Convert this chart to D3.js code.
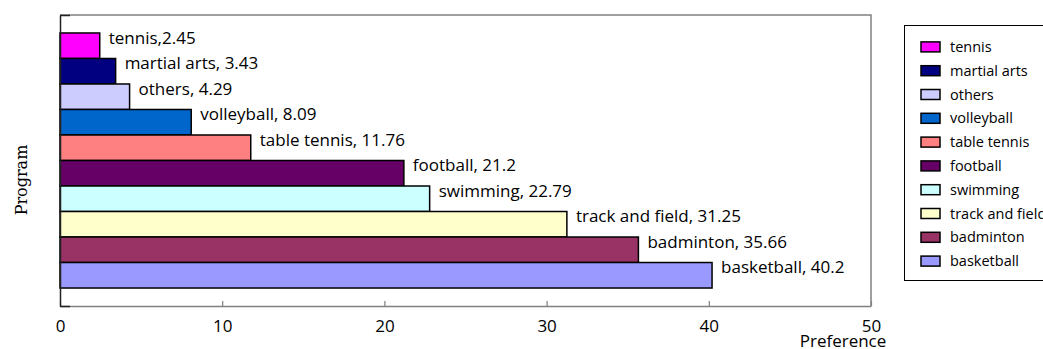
<!DOCTYPE html>
<html>
<head>
<meta charset="utf-8">
<script src="https://cdn.jsdelivr.net/npm/d3@7"></script>
<style>
  body { margin: 0; background: #fff; }
  svg { display: block; }
  text { font-family: "Open Sans", sans-serif; fill: #000; }
</style>
</head>
<body>
<div id="chart"></div>
<script>
'use strict';

// data, top bar first
var categories = ['tennis', 'martial arts', 'others', 'volleyball', 'table tennis',
  'football', 'swimming', 'track and field', 'badminton', 'basketball'];
var values = [2.45, 3.43, 4.29, 8.09, 11.76, 21.2, 22.79, 31.25, 35.66, 40.2];
var dataLabels = ['tennis,2.45', 'martial arts, 3.43', 'others, 4.29', 'volleyball, 8.09',
  'table tennis, 11.76', 'football, 21.2', 'swimming, 22.79', 'track and field, 31.25',
  'badminton, 35.66', 'basketball, 40.2'];
var colors = ['#ff00ff', '#000080', '#ccccff', '#0066cc', '#ff8080',
  '#660066', '#ccffff', '#ffffcc', '#993366', '#9999ff'];
var xTicks = [0, 10, 20, 30, 40, 50];

var width = 1043, height = 349;
var plot = {left: 60, right: 871, top: 15, bottom: 306};

var svg = d3.select('#chart')
  .append('svg')
  .attr('width', width)
  .attr('height', height);

var x = d3.scaleLinear().domain([0, 50]).range([plot.left, plot.right]);
var y = d3.scaleBand().domain(categories)
  .range([plot.top, plot.bottom])
  .paddingInner(0)
  .paddingOuter(0.705);
var color = d3.scaleOrdinal().domain(categories).range(colors);

var data = categories.map(function(c, i) {
  return {name: c, value: values[i], label: dataLabels[i]};
});

// plot frame (top and right)
svg.append('path')
  .attr('d', 'M' + plot.left + ',' + plot.top + 'H' + plot.right + 'V' + plot.bottom)
  .attr('fill', 'none')
  .attr('stroke', '#808080')
  .attr('stroke-width', 1.5);

// bars
svg.selectAll('rect.bar')
  .data(data)
  .enter()
    .append('rect')
    .attr('class', 'bar')
    .attr('x', x(0))
    .attr('y', function(d) { return y(d.name); })
    .attr('width', function(d) { return x(d.value) - x(0); })
    .attr('height', y.bandwidth())
    .attr('fill', function(d) { return color(d.name); })
    .attr('stroke', '#000')
    .attr('stroke-width', 1.5);

// bar labels
svg.selectAll('text.lbl')
  .data(data)
  .enter()
    .append('text')
    .attr('class', 'lbl')
    .attr('x', function(d) { return x(d.value) + 9; })
    .attr('y', function(d) { return y(d.name) + y.bandwidth() / 2 - 8; })
    .attr('dy', '0.35em')
    .style('font-size', '17px')
    .text(function(d) { return d.label; });

// x axis
var xAxis = svg.append('g')
  .attr('transform', 'translate(0,' + plot.bottom + ')')
  .call(d3.axisBottom(x).tickValues(xTicks).tickSizeInner(-5).tickSizeOuter(0).tickPadding(14));
xAxis.select('.domain').attr('stroke', '#808080').attr('stroke-width', 1.5);
xAxis.selectAll('.tick line').attr('stroke', '#808080').attr('stroke-width', 1.2);
xAxis.selectAll('.tick text')
  .style('font-family', '"Open Sans", sans-serif')
  .style('font-size', '17px')
  .attr('fill', '#000');

// y axis (category edges only)
var yEdge = d3.scaleLinear().domain([0, 1]).range([plot.bottom, plot.top]);
var yAxis = svg.append('g')
  .attr('transform', 'translate(' + plot.left + ',0)')
  .call(d3.axisLeft(yEdge).tickValues([0, 1]).tickSizeInner(-10).tickSizeOuter(0).tickFormat(''));
yAxis.select('.domain').attr('stroke', '#222').attr('stroke-width', 1.5);
yAxis.selectAll('.tick line').attr('stroke', '#222').attr('stroke-width', 1.5);

// axis titles
svg.append('text')
  .attr('x', 843)
  .attr('y', 347)
  .attr('text-anchor', 'middle')
  .style('font-size', '17px')
  .text('Preference');

svg.append('text')
  .attr('transform', 'translate(27,180) rotate(-90)')
  .attr('text-anchor', 'middle')
  .style('font-family', '"DejaVu Serif", serif')
  .style('font-size', '16px')
  .text('Program');

// legend
var legendY = d3.scaleBand().domain(categories).range([35, 273]);
var legend = svg.append('g');
legend.append('rect')
  .attr('x', 904.5)
  .attr('y', 25.5)
  .attr('width', 160)
  .attr('height', 255)
  .attr('fill', '#fff')
  .attr('stroke', '#000')
  .attr('stroke-width', 1);

var items = legend.selectAll('g.item')
  .data(categories)
  .enter()
    .append('g')
    .attr('class', 'item')
    .attr('transform', function(d) {
      return 'translate(0,' + (legendY(d) + legendY.bandwidth() / 2) + ')';
    });

items.append('rect')
  .attr('x', 921)
  .attr('y', -5)
  .attr('width', 19)
  .attr('height', 10)
  .attr('fill', function(d) { return color(d); })
  .attr('stroke', '#000')
  .attr('stroke-width', 1.5);

items.append('text')
  .attr('x', 950)
  .attr('dy', '0.35em')
  .style('font-size', '14.5px')
  .text(function(d) { return d; });
</script>
</body>
</html>
